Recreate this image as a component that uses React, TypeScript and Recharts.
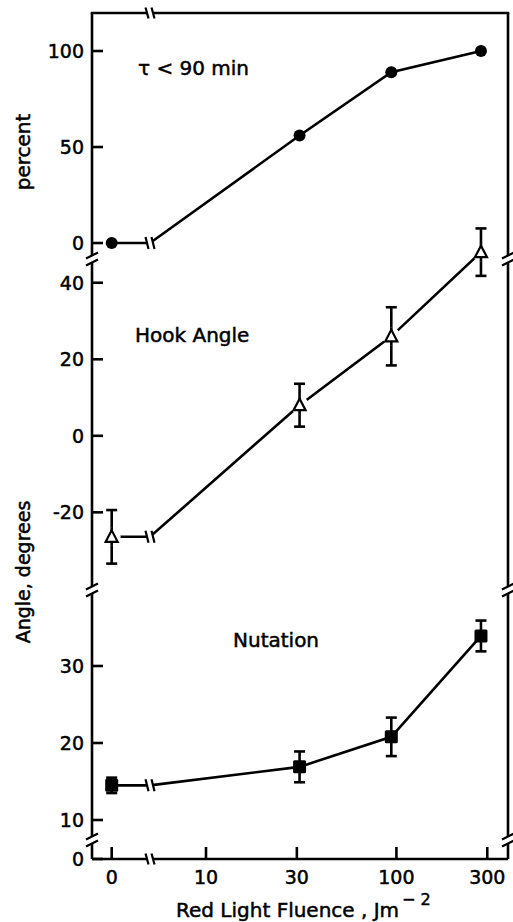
import React from 'react';
import { LineChart, Line, XAxis, YAxis, ErrorBar, ReferenceDot } from 'recharts';

// ---------- data ----------
const FLUENCE = [0, 31, 94, 278];
const X_TICK_FLUENCE = [0, 10, 30, 100, 300];
const X_TICK_LABELS = ['0', '10', '30', '100', '300'];

const PERCENT = [0, 56, 89, 100];
const HOOK = [-26.4, 8, 26, 48];
const HOOK_ERR = [7, 5.6, 7.6, 6.2];
const NUT = [14.5, 16.9, 20.8, 33.9];
const NUT_ERR = [1, 2, 2.5, 2];

const PERCENT_TICKS = [0, 50, 100];
const HOOK_TICKS = [-20, 0, 20, 40];
const NUT_TICKS = [10, 20, 30];

// ---------- layout ----------
const W = 513;
const H = 922;
const PLOT_LEFT = 92;
const PLOT_RIGHT = 508;
const PLOT_TOP = 13;
const PLOT_BOTTOM = 859;
const FONT = 'DejaVu Sans';
const SW = 2.6;

// x axis: log10 of fluence, the zero-fluence control drawn left of an axis break
const ZERO_POS = 0.5047;
const BREAK_POS = 0.706;
const X_DOMAIN: [number, number] = [0.4013, 2.586];
const pos = (f: number) => (f === 0 ? ZERO_POS : Math.log10(f));
const X_TICKS = X_TICK_FLUENCE.map(pos);
const BREAK_PX = PLOT_LEFT + ((BREAK_POS - X_DOMAIN[0]) / (X_DOMAIN[1] - X_DOMAIN[0])) * (PLOT_RIGHT - PLOT_LEFT);

// y domains (each panel spans the full plot height, only its own band is used)
const PERCENT_DOMAIN: [number, number] = [-320.8, 119.8];
const HOOK_DOMAIN: [number, number] = [-110.6, 110.5];
const NUT_DOMAIN: [number, number] = [4.935, 114.8];

const V_BREAKS = [259, 590, 840];

function buildRows(values: number[], errs: number[] | null) {
  const rows: any[] = values.map((v, i) => ({ x: pos(FLUENCE[i]), y: v, err: errs ? errs[i] : null, anchor: false }));
  rows.splice(1, 0, { x: BREAK_POS, y: values[0], err: null, anchor: true });
  return rows;
}

const tickStyle = { fill: '#000', fontSize: 19, fontFamily: FONT, stroke: '#000', strokeWidth: 0.5 };
const lineStyle = { stroke: '#000', strokeWidth: SW };

const CircleDot = (p: any) => {
  if (p.payload?.anchor) return <g key={p.key} />;
  return <circle key={p.key} cx={p.cx} cy={p.cy} r={6} fill="#000" />;
};
const TriangleDot = (p: any) => {
  if (p.payload?.anchor) return <g key={p.key} />;
  const { cx, cy } = p;
  return (
    <g key={p.key}>
      <circle cx={cx} cy={cy} r={9} fill="#fff" />
      <line x1={cx} x2={cx} y1={cy - 9} y2={cy + 9} stroke="#000" strokeWidth={SW} />
      <polygon points={`${cx},${cy - 6.5} ${cx - 6},${cy + 5} ${cx + 6},${cy + 5}`} fill="#fff" stroke="#000" strokeWidth={2.2} />
    </g>
  );
};
const SquareDot = (p: any) => {
  if (p.payload?.anchor) return <g key={p.key} />;
  return <rect key={p.key} x={p.cx - 6.5} y={p.cy - 6.5} width={13} height={13} rx={1.5} fill="#000" />;
};

const LineBreak = (p: any) => {
  const { cx, cy } = p;
  return (
    <g>
      <rect x={cx - 3} y={cy - 4} width={6} height={8} fill="#fff" />
      <line x1={cx - 4.5} y1={cy - 6} x2={cx - 1.5} y2={cy + 6} stroke="#000" strokeWidth={2.2} />
      <line x1={cx + 1.5} y1={cy - 6} x2={cx + 4.5} y2={cy + 6} stroke="#000" strokeWidth={2.2} />
    </g>
  );
};

type PanelProps = {
  rows: any[];
  domain: [number, number];
  ticks: number[];
  rightTicks: number[];
  leftFormat?: (v: number) => string;
  dot: any;
  primary?: boolean;
  hasErr?: boolean;
};

function Panel({ rows, domain, ticks, rightTicks, leftFormat, dot, primary, hasErr }: PanelProps) {
  return (
    <div style={{ position: 'absolute', left: 0, top: 0 }}>
      <LineChart width={W} height={H} data={rows} margin={{ top: PLOT_TOP, right: W - PLOT_RIGHT - 1, bottom: H - PLOT_BOTTOM - 40, left: 0 }}>
        <XAxis
          dataKey="x"
          type="number"
          domain={X_DOMAIN}
          allowDataOverflow
          ticks={X_TICKS}
          interval={0}
          tickFormatter={(v: number, i: number) => X_TICK_LABELS[i]}
          height={40}
          tickSize={-12}
          tickMargin={24}
          axisLine={primary ? lineStyle : false}
          tickLine={primary ? lineStyle : false}
          tick={primary ? tickStyle : false}
        />
        <YAxis
          yAxisId="l"
          type="number"
          domain={domain}
          allowDataOverflow
          ticks={ticks}
          interval={0}
          width={PLOT_LEFT}
          tickSize={-11}
          tickMargin={19}
          tickFormatter={leftFormat}
          axisLine={primary ? lineStyle : false}
          tickLine={lineStyle}
          tick={tickStyle}
        />
        <YAxis
          yAxisId="r"
          orientation="right"
          type="number"
          domain={domain}
          allowDataOverflow
          ticks={rightTicks}
          interval={0}
          width={1}
          tickSize={-12}
          axisLine={primary ? lineStyle : false}
          tickLine={lineStyle}
          tick={false}
        />
        <Line
          yAxisId="l"
          dataKey="y"
          type="linear"
          stroke="#000"
          strokeWidth={SW}
          dot={dot}
          activeDot={false}
          isAnimationActive={false}
        >
          {hasErr && <ErrorBar dataKey="err" width={5.5} stroke="#000" strokeWidth={SW} direction="y" />}
        </Line>
        <ReferenceDot yAxisId="l" x={BREAK_POS} y={rows[0].y} r={5} shape={LineBreak} />
      </LineChart>
    </div>
  );
}

const VBreak = ({ x, y }: { x: number; y: number }) => (
  <g>
    <rect x={x - 3} y={y - 3.5} width={6} height={7} fill="#fff" />
    <line x1={x - 6} y1={y - 0.5} x2={x + 6} y2={y - 6.5} stroke="#000" strokeWidth={2.2} />
    <line x1={x - 6} y1={y + 6.5} x2={x + 6} y2={y + 0.5} stroke="#000" strokeWidth={2.2} />
  </g>
);
const HBreak = ({ x, y }: { x: number; y: number }) => (
  <g>
    <rect x={x - 3} y={y - 3} width={6} height={6} fill="#fff" />
    <line x1={x - 4.5} y1={y - 5.5} x2={x - 1.5} y2={y + 5.5} stroke="#000" strokeWidth={2.2} />
    <line x1={x + 1.5} y1={y - 5.5} x2={x + 4.5} y2={y + 5.5} stroke="#000" strokeWidth={2.2} />
  </g>
);

export default function App() {
  const textStyle = { fontFamily: FONT, fontSize: 20, fill: '#000', stroke: '#000', strokeWidth: 0.5 };
  return (
    <div style={{ position: 'absolute', left: 0, top: 0, width: W, height: H, background: '#fff', overflow: 'hidden' }}>
      <Panel rows={buildRows(PERCENT, null)} domain={PERCENT_DOMAIN} ticks={PERCENT_TICKS} rightTicks={PERCENT_TICKS} dot={CircleDot} />
      <Panel rows={buildRows(HOOK, HOOK_ERR)} domain={HOOK_DOMAIN} ticks={HOOK_TICKS} rightTicks={HOOK_TICKS} dot={TriangleDot} hasErr />
      <Panel
        rows={buildRows(NUT, NUT_ERR)}
        domain={NUT_DOMAIN}
        ticks={[NUT_DOMAIN[0], ...NUT_TICKS]}
        rightTicks={NUT_TICKS}
        leftFormat={(v: number) => (v === NUT_DOMAIN[0] ? '0' : String(v))}
        dot={SquareDot}
        hasErr
        primary
      />
      <svg width={W} height={H} style={{ position: 'absolute', left: 0, top: 0, pointerEvents: 'none' }}>
        <line x1={PLOT_LEFT - SW / 2} x2={PLOT_RIGHT + SW / 2} y1={PLOT_TOP} y2={PLOT_TOP} stroke="#000" strokeWidth={SW} />
        {V_BREAKS.map((y) => (
          <g key={y}>
            <VBreak x={PLOT_LEFT} y={y} />
            <VBreak x={PLOT_RIGHT} y={y} />
          </g>
        ))}
        <HBreak x={BREAK_PX} y={PLOT_TOP} />
        <HBreak x={BREAK_PX} y={PLOT_BOTTOM} />
        <text x={138} y={75} {...textStyle}>τ &lt; 90 min</text>
        <text x={135} y={342} {...textStyle}>Hook Angle</text>
        <text x={233} y={647} {...textStyle}>Nutation</text>
        <text transform="translate(30,152) rotate(-90)" textAnchor="middle" {...textStyle}>percent</text>
        <text transform="translate(30,572) rotate(-90)" textAnchor="middle" {...textStyle} fontSize={19}>Angle, degrees</text>
        <text x={176} y={917} {...textStyle}>
          Red Light Fluence , Jm
          <tspan dx={3} dy={-12} fontSize={16}>− 2</tspan>
        </text>
      </svg>
    </div>
  );
}
